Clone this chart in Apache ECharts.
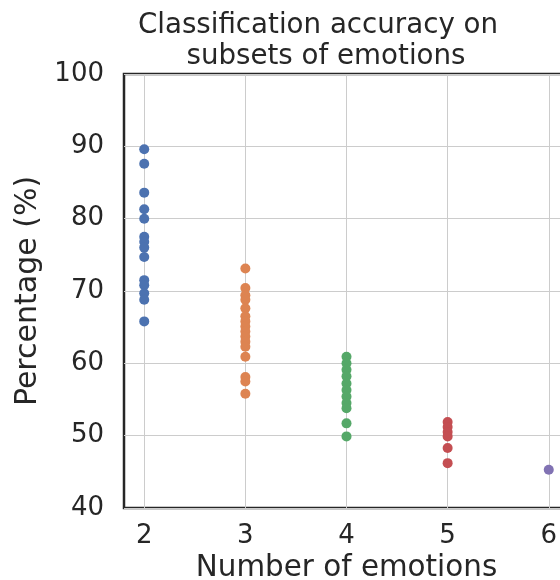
<!DOCTYPE html>
<html>
<head>
<meta charset="utf-8">
<script src="https://cdn.jsdelivr.net/npm/echarts@6/dist/echarts.min.js"></script>
<style>html,body{margin:0;padding:0;background:#fff;}#c{width:560px;height:580px;}</style>
</head>
<body>
<div id="c"></div>
<script>
const titleLines = ["Classification accuracy on", "subsets of emotions"];
const xLabel = "Number of emotions";
const yLabel = "Percentage (%)";
const xTicks = [2, 3, 4, 5, 6];
const yTicks = [40, 50, 60, 70, 80, 90, 100];
const colors = ["#4C72B0", "#DD8452", "#55A868", "#C44E52", "#8172B3"];
const acc2 = [89.6, 87.6, 83.6, 81.3, 80.0, 77.5, 76.8, 76.0, 74.7, 71.5, 70.8, 69.7, 68.8, 65.8];
const acc3 = [73.1, 70.4, 69.4, 68.8, 67.6, 66.5, 65.8, 65.1, 64.4, 63.7, 63.0, 62.3, 60.9, 58.1, 57.5, 55.8];
const acc4 = [60.9, 60.0, 59.1, 58.2, 57.2, 56.3, 55.4, 54.5, 53.8, 51.7, 49.9];
const acc5 = [51.9, 51.2, 50.5, 49.9, 48.3, 46.2];
const acc6 = [45.3];
const groups = [acc2, acc3, acc4, acc5, acc6];

const FONT = "DejaVu Sans";
const TXT = "#262626";
const chart = echarts.init(document.getElementById('c'), null, {renderer: 'canvas'});
chart.setOption({
  animation: false,
  backgroundColor: '#fff',
  title: [
    {text: titleLines[0], left: 313, top: 7, textAlign: 'center',
     textStyle: {fontFamily: FONT, fontSize: 27.7, fontWeight: 'normal', color: TXT}},
    {text: titleLines[1], left: 321, top: 38, textAlign: 'center',
     textStyle: {fontFamily: FONT, fontSize: 27.7, fontWeight: 'normal', color: TXT}}
  ],
  grid: {left: 124, top: 74, width: 445, bottom: 72, show: true,
         outerBoundsMode: 'none', containLabel: false,
         borderColor: '#262626', borderWidth: 2.5, backgroundColor: '#fff'},
  xAxis: {
    type: 'value', min: 1.8, max: 6.2,
    name: xLabel, nameLocation: 'middle', nameGap: 46,
    nameTextStyle: {fontFamily: FONT, fontSize: 29.4, color: TXT},
    axisLine: {show: false},
    axisTick: {show: false, customValues: xTicks},
    axisLabel: {customValues: xTicks, fontFamily: FONT, fontSize: 26, color: TXT, margin: 15},
    splitLine: {show: true, lineStyle: {color: '#cccccc', width: 1}}
  },
  yAxis: {
    type: 'value', min: 40, max: 100, interval: 10,
    name: yLabel, nameLocation: 'middle', nameGap: 75,
    nameTextStyle: {fontFamily: FONT, fontSize: 30, color: TXT},
    axisLine: {show: false},
    axisTick: {show: false},
    axisLabel: {fontFamily: FONT, fontSize: 26, color: TXT, margin: 20},
    splitLine: {show: true, lineStyle: {color: '#cccccc', width: 1}}
  },
  series: groups.map((g, i) => ({
    type: 'scatter',
    symbol: 'circle',
    symbolSize: 10,
    itemStyle: {color: colors[i], opacity: 1},
    data: g.map(v => [xTicks[i], v])
  }))
});
</script>
</body>
</html>
